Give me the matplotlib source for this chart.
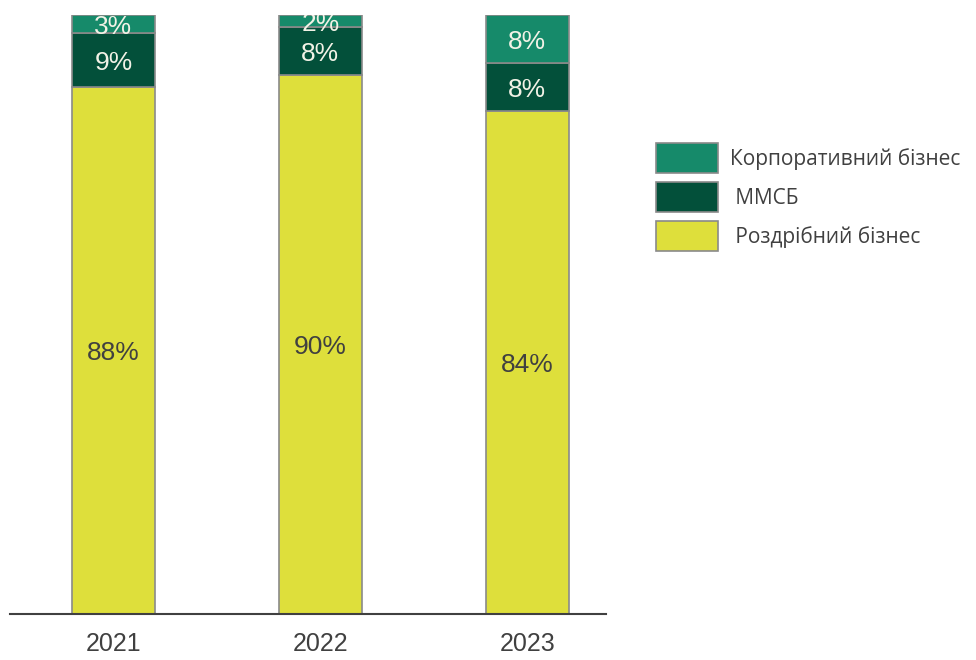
import matplotlib.pyplot as plt
import numpy as np

years = ['2021', '2022', '2023']
retail = [88, 90, 84]
smb = [9, 8, 8]
corporate = [3, 2, 8]

labels = ['Корпоративний бізнес', 'ММСБ', 'Роздрібний бізнес']
colors = {'retail': '#DEDF3B', 'smb': '#03503A', 'corp': '#168A6A'}

fig = plt.figure(figsize=(9.76, 6.6), dpi=100)
ax = fig.add_axes([0.0102, 0.0697, 0.6107, 0.9076])

x = np.arange(len(years))
w = 0.4
edge = dict(edgecolor='#8A8A8A', linewidth=1.2)

b1 = ax.bar(x, retail, w, color=colors['retail'], **edge)
b2 = ax.bar(x, smb, w, bottom=retail, color=colors['smb'], **edge)
bottom3 = np.array(retail) + np.array(smb)
b3 = ax.bar(x, corporate, w, bottom=bottom3, color=colors['corp'], **edge)

lab_font = dict(family=['Liberation Sans', 'DejaVu Sans'], fontsize=19)


def put(xv, yv, txt, col):
    # baseline shifted down by half the cap height so digits sit centred
    ax.annotate(txt, (xv, yv), xytext=(0, -7), textcoords='offset points',
                ha='center', va='baseline', color=col,
                annotation_clip=False, clip_on=True, **lab_font)


for i in range(len(years)):
    put(x[i], retail[i] / 2, f'{retail[i]}%', '#404040')
    put(x[i], retail[i] + smb[i] / 2, f'{smb[i]}%', '#F2F2E6')
    put(x[i], bottom3[i] + corporate[i] / 2, f'{corporate[i]}%', '#F2F2E6')

ax.set_xlim(-0.5, 2.38)
ax.set_ylim(0, 100)
ax.set_xticks(x)
ax.set_xticklabels(years, color='#404040', fontsize=18,
                   family=['Liberation Sans', 'DejaVu Sans'])
ax.tick_params(axis='x', length=0, pad=13)
ax.set_yticks([])
for s in ['top', 'right', 'left']:
    ax.spines[s].set_visible(False)
ax.spines['bottom'].set_color('#404040')
ax.spines['bottom'].set_linewidth(1.5)

leg = fig.legend([b3, b2, b1], [labels[0], ' ' + labels[1], ' ' + labels[2]],
                 loc='upper left', bbox_to_anchor=(0.672, 0.7833),
                 frameon=False,
                 prop={'family': ['Open Sans', 'DejaVu Sans'], 'size': 15},
                 handlelength=2.98, handleheight=1.84, labelspacing=0.43,
                 handletextpad=0.6, borderpad=0, borderaxespad=0)
for t in leg.get_texts():
    t.set_color('#404040')

fig.savefig('out.png', dpi=100)
